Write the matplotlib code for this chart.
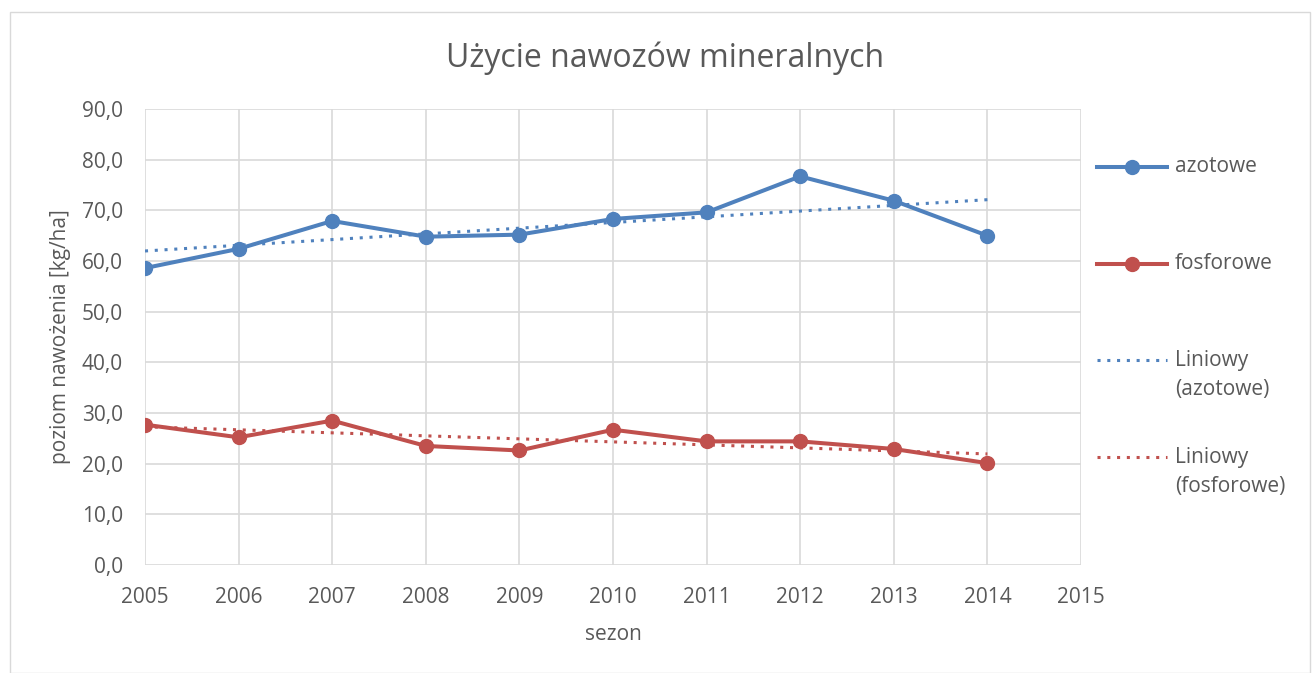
import numpy as np
import matplotlib
matplotlib.use("Agg")
import matplotlib.pyplot as plt
from matplotlib.patches import Rectangle
from matplotlib.lines import Line2D

years = [2005, 2006, 2007, 2008, 2009, 2010, 2011, 2012, 2013, 2014]
azotowe = [58.6, 62.4, 67.9, 64.8, 65.2, 68.3, 69.6, 76.7, 71.9, 65.0]
fosforowe = [27.7, 25.2, 28.5, 23.5, 22.6, 26.7, 24.4, 24.4, 22.9, 20.1]

BLUE = '#4F81BD'
RED = '#C0504D'
TXT = '#595959'
DOTS = (0, (1, 2.2))

plt.rcParams['font.family'] = ['Open Sans', 'DejaVu Sans']

W, H = 1312, 673
fig = plt.figure(figsize=(W / 100, H / 100), dpi=100)
ax = fig.add_axes([145 / W, 1 - 565 / H, 936 / W, 456 / H])

# chart frame
fig.patches.append(Rectangle((10 / W, 0), 1300 / W, 1 - 12 / H,
                             transform=fig.transFigure, fill=False,
                             edgecolor='#D9D9D9', linewidth=1))

x = np.array(years)
ax.plot(x, azotowe, color=BLUE, lw=2.9, marker='o', ms=10, zorder=3)
ax.plot(x, fosforowe, color=RED, lw=2.9, marker='o', ms=10, zorder=3)

# linear trendlines (Excel "Liniowy")
for vals, c in [(azotowe, BLUE), (fosforowe, RED)]:
    a, b = np.polyfit(x, vals, 1)
    ax.plot(x, a * x + b, color=c, lw=2.2, linestyle=DOTS, zorder=2)

ax.set_xlim(2005, 2015)
ax.set_ylim(0, 90)
ax.set_xticks(range(2005, 2016))
ax.set_yticks(range(0, 91, 10))
ax.set_yticklabels([f'{v},0' for v in range(0, 91, 10)])
ax.grid(True, color='#D9D9D9', lw=1.2)
ax.set_axisbelow(True)
for s in ax.spines.values():
    s.set_visible(False)
ax.tick_params(length=0, labelsize=15, colors=TXT)
ax.tick_params(axis='x', pad=16)
ax.tick_params(axis='y', pad=16)

ax.set_xlabel('sezon', fontsize=15, color=TXT, labelpad=11)
ax.set_ylabel('poziom nawożenia [kg/ha]', fontsize=15, color=TXT, labelpad=8)
fig.text(665 / W, 1 - 58 / H, 'Użycie nawozów mineralnych',
         fontsize=23, color=TXT, ha='center', va='center')

# legend drawn by hand to match Excel's even spacing
entries = [
    ('azotowe', BLUE, '-', 'o', 167, 167),
    ('fosforowe', RED, '-', 'o', 264, 264),
    ('Liniowy\n(azotowe)', BLUE, DOTS, None, 360, 375),
    ('Liniowy\n(fosforowe)', RED, DOTS, None, 457, 472),
]
for label, c, ls, mk, yh, yt in entries:
    yh_f = 1 - yh / H
    lw = 2.9 if mk else 2.2
    fig.add_artist(Line2D([1097 / W, 1167 / W], [yh_f, yh_f], color=c,
                          lw=lw, linestyle=ls, transform=fig.transFigure))
    if mk:
        fig.add_artist(Line2D([1132 / W], [yh_f], color=c, marker=mk, ms=10,
                              transform=fig.transFigure))
    fig.text(1175 / W, 1 - yt / H, label, fontsize=15, color=TXT,
             ha='left', va='center', linespacing=1.45)

fig.savefig('out.png', dpi=100)
